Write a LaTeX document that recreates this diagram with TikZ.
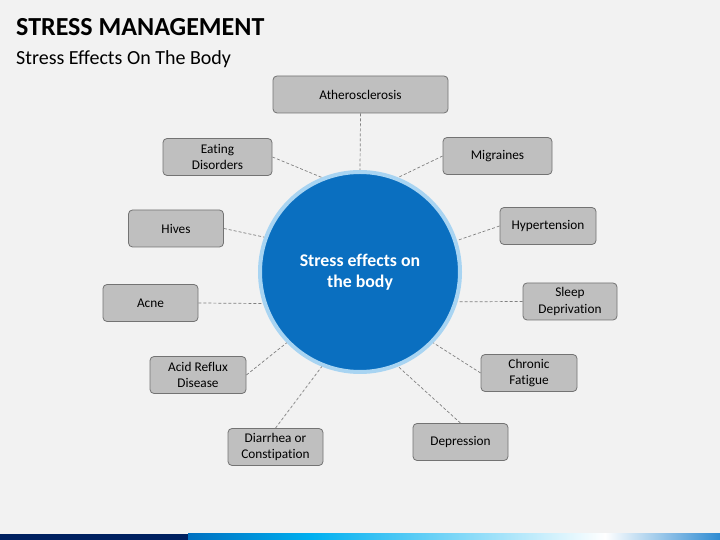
\documentclass[tikz,border=0pt]{standalone}
\usepackage{fontspec}
\setmainfont{Carlito}[Ligatures=NoCommon]
\usepackage{tikz}
\usetikzlibrary{positioning}
\definecolor{bggray}{HTML}{F2F2F2}
\definecolor{boxfill}{HTML}{BFBFBF}
\definecolor{boxedge}{HTML}{737373}
\definecolor{hubblue}{HTML}{0A6FC0}
\definecolor{ringblue}{HTML}{A8D4F2}
\definecolor{linkgray}{HTML}{808080}
\definecolor{navy}{HTML}{002060}
\definecolor{barblue}{HTML}{0070C0}
\definecolor{barcyan}{HTML}{00B0F0}
\definecolor{barend}{HTML}{2E8BD2}

\begin{document}
\begin{tikzpicture}[x=1pt,y=1pt,
	effect/.style={draw=boxedge,fill=boxfill,rounded corners=4pt,line width=0.8pt,
		minimum width=95pt,minimum height=37pt,inner sep=1pt,align=center,
		font=\fontsize{13.3}{16.5}\selectfont},
	hub/.style={circle,draw=ringblue,line width=4pt,fill=hubblue,minimum size=200pt,
		text=white,align=center,font=\fontsize{17.8}{21}\selectfont\bfseries},
	link/.style={draw=linkgray,dash pattern=on 3pt off 2pt,line width=0.7pt}]

	\fill[bggray] (0,0) rectangle (720,540);
	\useasboundingbox (0,0) rectangle (720,540);

	\node[anchor=base west,inner sep=0pt,font=\fontsize{26}{30}\selectfont\bfseries] (title) at (16,504) {STRESS MANAGEMENT};
	\node[anchor=base west,inner sep=0pt,font=\fontsize{20}{24}\selectfont] (subtitle) at (16,475) {Stress Effects On The Body};

	\node[hub] (1) at (360,268) {Stress effects on\\the body};
	\node[effect,minimum width=175pt] (2) at (360.5,445.5) {Atherosclerosis};
	\node[effect,minimum width=109pt] (3) at (497.5,384) {Migraines};
	\node[effect,minimum width=109pt] (4) at (217.5,383) {Eating\\Disorders};
	\node[effect] (5) at (176,311.5) {Hives};
	\node[effect,minimum width=96pt] (6) at (548,314) {Hypertension};
	\node[effect] (7) at (150.5,237) {Acne};
	\node[effect,minimum width=94pt] (8) at (570,238.5) {Sleep\\Deprivation};
	\node[effect,minimum width=96pt] (9) at (198,165) {Acid Reflux\\Disease};
	\node[effect,minimum width=96pt] (10) at (529,167) {Chronic\\Fatigue};
	\node[effect] (11) at (275.5,93) {Diarrhea or\\Constipation};
	\node[effect] (12) at (460.5,98) {Depression};

	\path[link]
		(2.south) edge (1.90)
		(3.west) edge (1.68)
		(4.east) edge (1.112)
		(5.east) edge (1.160)
		(6.west) edge (1.18)
		(7.east) edge (1.198)
		(8.west) edge (1.-17)
		(9.east) edge (1.224)
		(10.west) edge (1.-44)
		(11.north) edge (1.248)
		(12.north) edge (1.-68);

	\fill[navy] (0,0) rectangle (188,6);
	\shade[left color=barblue,right color=barcyan] (188,0) rectangle (312,6);
	\shade[left color=barcyan,right color=white] (312,0) rectangle (605,6);
	\shade[left color=white,right color=barend] (605,0) rectangle (720,6);
\end{tikzpicture}
\end{document}
